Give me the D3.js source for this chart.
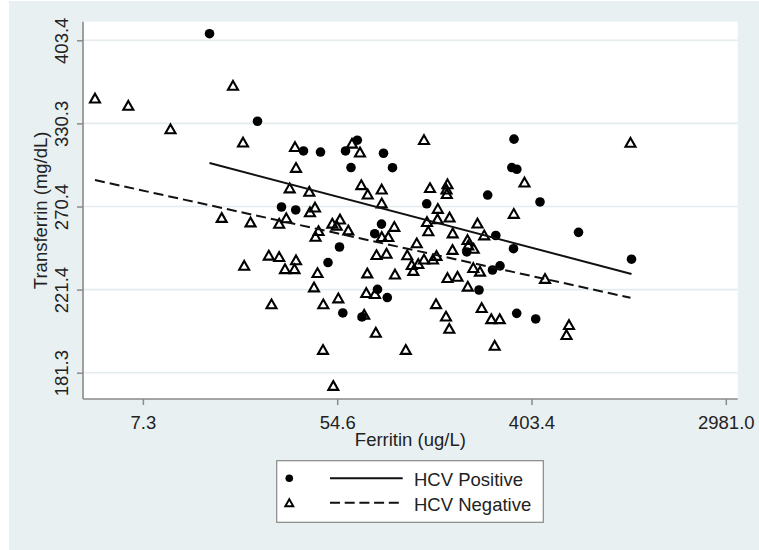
<!DOCTYPE html>
<html><head><meta charset="utf-8">
<script src="https://cdn.jsdelivr.net/npm/d3@7"></script>
<style>
html,body{margin:0;padding:0;background:#fff;}
svg{display:block;font-family:"Liberation Sans",Arial,Helvetica,sans-serif;}
</style>
</head><body>
<svg id="chart" width="759" height="550"></svg>
<script>
// ---- tick values / labels (log axes, e^k) ----
const xTickValues = [7.389, 54.598, 403.429, 2980.958];
const xTickLabels = ["7.3", "54.6", "403.4", "2981.0"];
const yTickValues = [181.272, 221.406, 270.426, 330.300, 403.429];
const yTickLabels = ["181.3", "221.4", "270.4", "330.3", "403.4"];

const xTitle = "Ferritin (ug/L)";
const yTitle = "Transferrin (mg/dL)";
const seriesNames = ["HCV Positive", "HCV Negative"];

// ---- HCV Positive (filled circles) ----
const posFerritin = [14.67, 24.04, 38.59, 45.98, 59.47, 67.15, 62.93, 87.93, 96.46, 30.77,
  35.62, 55.91, 49.67, 57.84, 70.48, 86.14, 80.32, 82.67, 91.44, 137.2,
  257.0, 336.9, 329.4, 346.8, 440.3, 654.5, 1129.2, 279.4, 207.3, 335.2,
  270.0, 291.7, 235.0, 346.4, 421.2];
const posTransferrin = [409.9, 332.0, 309.1, 308.3, 309.1, 317.2, 297.0, 307.4, 296.9, 270.1,
  268.2, 245.3, 236.3, 209.3, 207.3, 259.2, 253.3, 221.5, 217.2, 272.2,
  278.0, 318.0, 297.0, 295.8, 273.4, 254.1, 238.2, 252.2, 242.4, 244.3,
  232.1, 234.4, 221.2, 209.1, 206.3];

// ---- HCV Negative (hollow triangles) ----
const negFerritin = [4.513, 6.358, 9.817, 18.68, 20.71, 35.36, 35.73, 33.48, 40.97, 43.45,
  41.26, 63.58, 69.04, 69.97, 74.74, 86.32, 86.32, 16.63, 22.37, 30.05,
  32.33, 51.91, 56.19, 54.32, 45.04, 43.67, 61.21, 27.00, 30.05, 35.73,
  20.96, 31.90, 35.18, 44.58, 43.00, 27.76, 47.32, 55.22, 74.42, 81.82,
  90.69, 86.41, 92.39, 98.27, 73.66, 80.57, 72.09, 81.23, 47.17, 52.45,
  110.6, 133.4, 141.9, 169.9, 168.2, 168.7, 153.8, 137.6, 153.3, 173.5,
  231.4, 139.5, 179.3, 247.9, 208.8, 210.5, 222.5, 178.9, 123.8, 112.3,
  133.4, 146.4, 151.7, 117.6, 125.8, 119.5, 221.6, 237.4, 98.97, 169.9,
  188.3, 209.4, 151.0, 241.6, 167.3, 173.1, 266.7, 290.8, 276.2, 463.6,
  593.5, 578.4, 375.4, 336.2, 1117.7];
const negTransferrin = [350.7, 344.6, 325.7, 361.6, 315.5, 312.1, 296.8, 282.5, 280.2, 269.8,
  266.7, 314.6, 308.0, 284.7, 278.4, 281.7, 272.5, 263.1, 260.3, 259.4,
  262.9, 259.5, 262.1, 258.2, 254.9, 251.4, 255.3, 240.3, 239.5, 237.6,
  234.5, 232.6, 232.6, 230.4, 222.6, 213.7, 213.7, 216.8, 230.2, 240.6,
  241.4, 251.3, 251.3, 257.5, 219.6, 219.1, 208.4, 199.6, 191.5, 175.6,
  191.5, 317.4, 282.7, 285.3, 281.7, 278.7, 268.9, 260.5, 262.3, 263.4,
  259.6, 254.8, 253.5, 252.3, 249.5, 246.2, 244.3, 243.6, 247.5, 240.5,
  238.0, 238.0, 240.1, 234.9, 235.5, 231.6, 233.2, 231.2, 229.6, 227.7,
  228.4, 223.0, 213.8, 211.8, 207.5, 201.5, 206.2, 206.2, 193.4, 227.2,
  203.3, 198.5, 286.5, 265.7, 315.3];

// ---- fitted lines (endpoints) ----
const fitPosFerritin = [14.67, 1129.2];
const fitPosTransferrin = [300.3, 229.9];
const fitNegFerritin = [4.513, 1117.7];
const fitNegTransferrin = [288.2, 217.1];

// ================= drawing =================
const W = 759, H = 550;
const plot = {l: 83, t: 21.7, r: 737.7, b: 399};
const bgColor = "#e9f0f2", gridColor = "#e3ebee", axisColor = "#8a8a8a", textColor = "#222";
const fontSize = 18.5;

const svg = d3.select("#chart");
svg.append("rect").attr("x", 9).attr("y", 1).attr("width", W - 9).attr("height", H - 1).attr("fill", bgColor);
svg.append("rect").attr("x", plot.l).attr("y", plot.t).attr("width", plot.r - plot.l).attr("height", plot.b - plot.t).attr("fill", "#fff");

const x = d3.scaleLog().domain([Math.exp(2), Math.exp(8)]).range([142.9, 725.8]);
const y = d3.scaleLog().domain([Math.exp(5.2), Math.exp(6)]).range([372.7, 40.3]);

// gridlines
svg.append("g").selectAll("line").data(yTickValues).join("line")
  .attr("x1", plot.l).attr("x2", plot.r)
  .attr("y1", d => y(d)).attr("y2", d => y(d))
  .attr("stroke", gridColor).attr("stroke-width", 1.6);

// axes
const yAxis = d3.axisLeft(y).tickValues(yTickValues).tickFormat((d, i) => yTickLabels[i]).tickSize(6).tickSizeOuter(0);
const gy = svg.append("g").attr("transform", `translate(${plot.l},0)`).call(yAxis);
gy.select(".domain").remove();
gy.selectAll(".tick line").attr("stroke", axisColor).attr("stroke-width", 1.5);
gy.selectAll(".tick text")
  .attr("transform", "rotate(-90)")
  .attr("x", 0).attr("y", -(plot.l - 68.3)).attr("dy", 0)
  .attr("text-anchor", "middle")
  .attr("fill", textColor).style("font-size", fontSize + "px").style("font-family", "inherit");

const xAxis = d3.axisBottom(x).tickValues(xTickValues).tickFormat((d, i) => xTickLabels[i]).tickSize(6).tickSizeOuter(0);
const gx = svg.append("g").attr("transform", `translate(0,${plot.b})`).call(xAxis);
gx.select(".domain").remove();
gx.selectAll(".tick line").attr("stroke", axisColor).attr("stroke-width", 1.5);
gx.selectAll(".tick text")
  .attr("y", 30.3).attr("dy", 0)
  .attr("fill", textColor).style("font-size", fontSize + "px").style("font-family", "inherit");

// axis lines
svg.append("line").attr("x1", plot.l).attr("x2", plot.l).attr("y1", plot.t).attr("y2", plot.b)
  .attr("stroke", axisColor).attr("stroke-width", 1.6);
svg.append("line").attr("x1", plot.l).attr("x2", plot.r).attr("y1", plot.b).attr("y2", plot.b)
  .attr("stroke", axisColor).attr("stroke-width", 1.6);

// titles
svg.append("text").attr("x", (plot.l + plot.r) / 2).attr("y", 446)
  .attr("text-anchor", "middle").attr("fill", textColor).style("font-size", fontSize + "px").text(xTitle);
svg.append("text").attr("transform", `translate(46.7,${(plot.t + plot.b) / 2}) rotate(-90)`)
  .attr("text-anchor", "middle").attr("fill", textColor).style("font-size", fontSize + "px").text(yTitle);

// markers
const triPath = "M0,-4.8L5,4L-5,4Z";
const pos = posFerritin.map((f, i) => ({f, t: posTransferrin[i]}));
const neg = negFerritin.map((f, i) => ({f, t: negTransferrin[i]}));

svg.append("g").selectAll("circle").data(pos).join("circle")
  .attr("cx", d => x(d.f)).attr("cy", d => y(d.t)).attr("r", 4.8).attr("fill", "#000");

svg.append("g").selectAll("path").data(neg).join("path")
  .attr("d", triPath).attr("transform", d => `translate(${x(d.f)},${y(d.t)})`)
  .attr("fill", "none").attr("stroke", "#000").attr("stroke-width", 2.1);

// fit lines
const line = d3.line().x(d => x(d.f)).y(d => y(d.t));
const fitPos = fitPosFerritin.map((f, i) => ({f, t: fitPosTransferrin[i]}));
const fitNeg = fitNegFerritin.map((f, i) => ({f, t: fitNegTransferrin[i]}));
svg.append("path").datum(fitPos).attr("d", line).attr("fill", "none").attr("stroke", "#111").attr("stroke-width", 2);
svg.append("path").datum(fitNeg).attr("d", line).attr("fill", "none").attr("stroke", "#111").attr("stroke-width", 2)
  .attr("stroke-dasharray", "10,5");

// legend
const lg = svg.append("g");
lg.append("rect").attr("x", 276.7).attr("y", 460.7).attr("width", 266.6).attr("height", 61.6)
  .attr("fill", "#fff").attr("stroke", "#888").attr("stroke-width", 1.2);
lg.append("circle").attr("cx", 289.3).attr("cy", 478.3).attr("r", 3.8).attr("fill", "#000");
lg.append("path").attr("d", "M0,-3.8L4,3.2L-4,3.2Z").attr("transform", "translate(289.3,503)")
  .attr("fill", "none").attr("stroke", "#000").attr("stroke-width", 1.9);
lg.append("line").attr("x1", 330).attr("x2", 402.7).attr("y1", 478.3).attr("y2", 478.3)
  .attr("stroke", "#111").attr("stroke-width", 2);
lg.append("line").attr("x1", 330).attr("x2", 402.7).attr("y1", 502.7).attr("y2", 502.7)
  .attr("stroke", "#111").attr("stroke-width", 2).attr("stroke-dasharray", "10,4.7");
lg.append("text").attr("x", 414).attr("y", 486).attr("fill", textColor).style("font-size", fontSize + "px").text(seriesNames[0]);
lg.append("text").attr("x", 414).attr("y", 511).attr("fill", textColor).style("font-size", fontSize + "px").text(seriesNames[1]);
</script>
</body></html>
